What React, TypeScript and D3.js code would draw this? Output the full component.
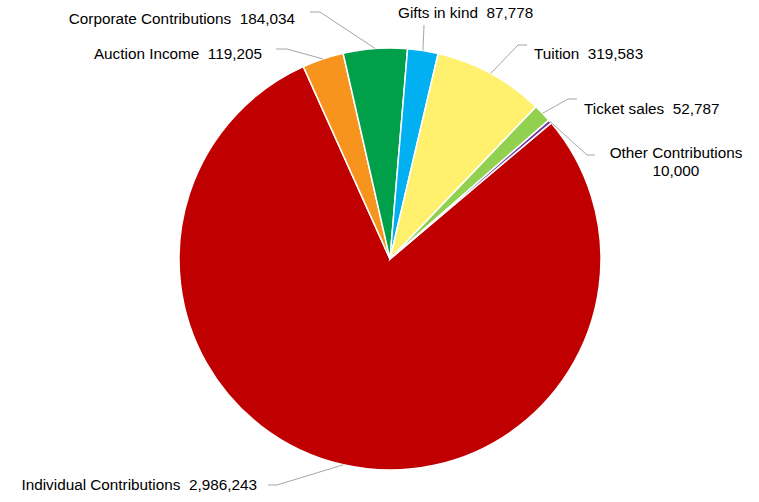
import React from "react";
import * as d3 from "d3";

const categories = [
  "Individual Contributions",
  "Auction Income",
  "Corporate Contributions",
  "Gifts in kind",
  "Tuition",
  "Ticket sales",
  "Other Contributions",
];
const values = [2986243, 119205, 184034, 87778, 319583, 52787, 10000];
const colors = ["#C00000", "#F7941D", "#00A04A", "#00B0F0", "#FFF06E", "#92D050", "#7030A0"];

// label layout: text anchor x, text y (center), elbow point, horizontal end
const labelLayout = [
  { tx: 257, ty: 485, anchor: "end", ex: 277, ey: 485, hx: 268 },
  { tx: 262, ty: 54, anchor: "end", ex: 287, ey: 49, hx: 276 },
  { tx: 295, ty: 19, anchor: "end", ex: 320, ey: 12, hx: 310 },
  { tx: 398, ty: 13, anchor: "start", ex: 424, ey: 25, hx: 424 },
  { tx: 534, ty: 54, anchor: "start", ex: 518, ey: 45, hx: 527 },
  { tx: 584, ty: 109, anchor: "start", ex: 568, ey: 99, hx: 577 },
  { tx: 676, ty: 153, anchor: "middle", ex: 587, ey: 155, hx: 595 },
];

const W = 759;
const H = 502;
const cx = 390;
const cy = 259;
const R = 211;
const start = (49.8 * Math.PI) / 180;

export default function App() {
  const fmt = d3.format(",");
  const pie = d3
    .pie<number>()
    .sort(null)
    .value((d) => d)
    .startAngle(start)
    .endAngle(start + 2 * Math.PI);
  const arcs = pie(values);
  const arc = d3.arc<d3.PieArcDatum<number>>().innerRadius(0).outerRadius(R);

  return (
    <svg
      width={W}
      height={H}
      style={{ position: "absolute", left: 0, top: 0, background: "#fff" }}
      fontFamily="'Liberation Sans', Arial, sans-serif"
      fontSize={15.3}
    >
      <g transform={`translate(${cx},${cy})`}>
        {arcs.map((a, i) => (
          <path key={i} d={arc(a) || ""} fill={colors[i]} stroke="#fff" strokeWidth={1.5} />
        ))}
      </g>
      {arcs.map((a, i) => {
        const L = labelLayout[i];
        const m = (a.startAngle + a.endAngle) / 2;
        const px = cx + R * Math.sin(m);
        const py = cy - R * Math.cos(m);
        const pts: [number, number][] = [
          [px, py],
          [L.ex, L.ey],
          [L.hx, L.ey],
        ];
        const line = d3.line()(pts) || "";
        return (
          <g key={i}>
            <path d={line} fill="none" stroke="#A6A6A6" strokeWidth={1} />
            {L.anchor === "middle" ? (
              <text textAnchor="middle" fill="#000">
                <tspan x={L.tx} y={L.ty} dy="0.35em">{categories[i]}</tspan>
                <tspan x={L.tx} y={L.ty + 18} dy="0.35em">{fmt(values[i])}</tspan>
              </text>
            ) : (
              <text x={L.tx} y={L.ty} dy="0.35em" textAnchor={L.anchor} fill="#000" style={{ whiteSpace: "pre" }}>
                {categories[i] + "  " + fmt(values[i])}
              </text>
            )}
          </g>
        );
      })}
    </svg>
  );
}
